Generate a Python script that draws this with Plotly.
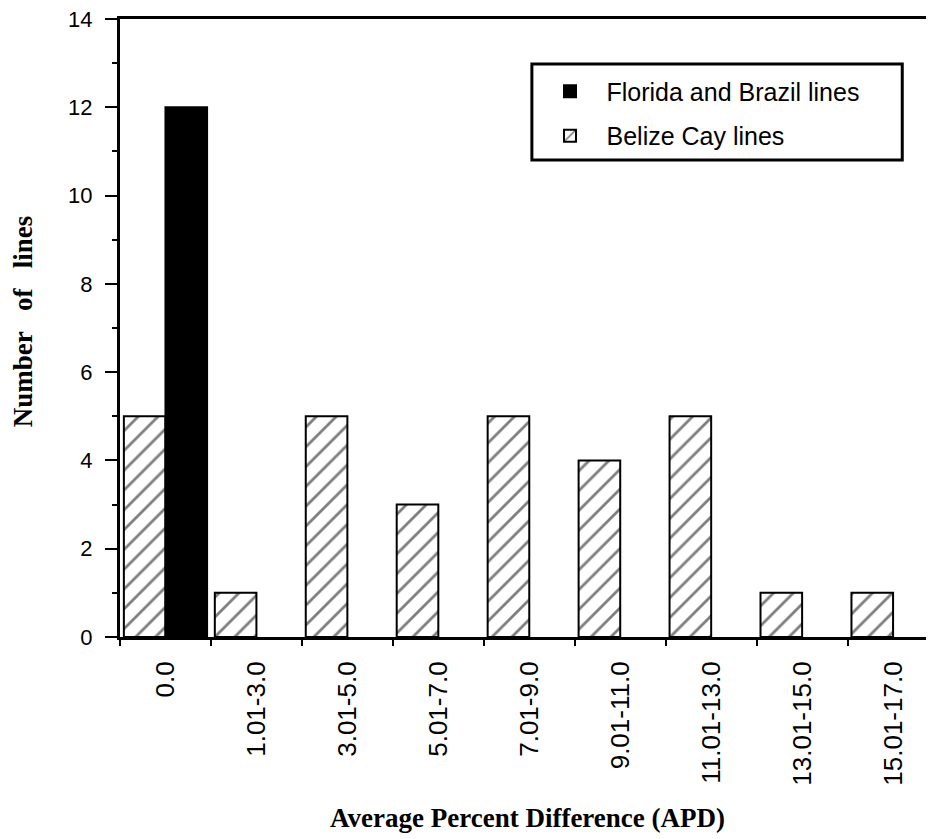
import plotly.graph_objects as go

categories = ["0.0", "1.01-3.0", "3.01-5.0", "5.01-7.0", "7.01-9.0",
              "9.01-11.0", "11.01-13.0", "13.01-15.0", "15.01-17.0"]
belize_values = [5, 1, 5, 3, 5, 4, 5, 1, 1]
florida_categories = ["0.0"]
florida_values = [12]
y_ticks = [0, 2, 4, 6, 8, 10, 12, 14]

fig = go.Figure()
fig.add_trace(go.Bar(
    x=categories, y=belize_values, name="Belize Cay lines",
    legendrank=2, legendgroup="b",
    marker=dict(color="white", line=dict(color="black", width=2),
                pattern=dict(shape="/", fgcolor="black", bgcolor="white",
                             size=14, solidity=0.2)),
))
fig.add_trace(go.Bar(
    x=florida_categories, y=florida_values, name="Florida and Brazil lines",
    legendrank=1, legendgroup="f",
    marker=dict(color="black", line=dict(color="black", width=2)),
))

fig.update_layout(
    width=926, height=831,
    margin=dict(l=112, r=0, t=11, b=202, autoexpand=False),
    paper_bgcolor="white", plot_bgcolor="white",
    barmode="group", bargap=0.085, bargroupgap=0,
    font=dict(family="Liberation Sans, Arial", color="black"),
    showlegend=True,
    legend=dict(x=0.508, y=0.92, xanchor="left", yanchor="top",
                borderwidth=0, bgcolor="rgba(0,0,0,0)",
                font=dict(size=25, family="Liberation Sans, Arial"),
                tracegroupgap=9, itemwidth=63),
    shapes=[dict(type="rect", xref="paper", yref="paper",
                 x0=0.506, x1=0.961, y0=0.772, y1=0.927,
                 line=dict(color="black", width=3), fillcolor="white",
                 layer="above")],
    annotations=[
        dict(text="<b>Average Percent Difference (APD)</b>", xref="paper", yref="paper",
             x=0.5, y=-0.293, xanchor="center", yanchor="middle", showarrow=False,
             font=dict(family="Liberation Serif, Times New Roman", size=27)),
        dict(text="<b>Number\u00a0\u00a0 of\u00a0\u00a0 lines</b>", xref="paper", yref="paper",
             x=-0.119, y=0.511, xanchor="center", yanchor="middle", showarrow=False,
             textangle=-90,
             font=dict(family="Liberation Serif, Times New Roman", size=27)),
    ],
)

fig.update_xaxes(
    type="category", categoryorder="array", categoryarray=categories,
    range=[-0.5, 8.45], tickson="boundaries", ticks="outside", ticklen=6,
    tickwidth=2, tickcolor="black", tickangle=-90, automargin=False,
    tickfont=dict(size=26, family="Liberation Sans, Arial"),
    ticklabelstandoff=11,
    showline=True, linewidth=3, linecolor="black", mirror=True,
    showgrid=False, zeroline=False,
)
fig.update_yaxes(
    range=[0, 14], tickvals=y_ticks, ticks="outside", ticklen=12, tickwidth=2,
    tickcolor="black", tickfont=dict(size=22, family="Liberation Sans, Arial"),
    ticklabelstandoff=8, automargin=False, ticklabeloverflow="allow",
    minor=dict(dtick=1, ticks="outside", ticklen=5, tickwidth=2, tickcolor="black"),
    showline=True, linewidth=3, linecolor="black", showgrid=False, zeroline=False,
)

fig.write_html("out.html")
